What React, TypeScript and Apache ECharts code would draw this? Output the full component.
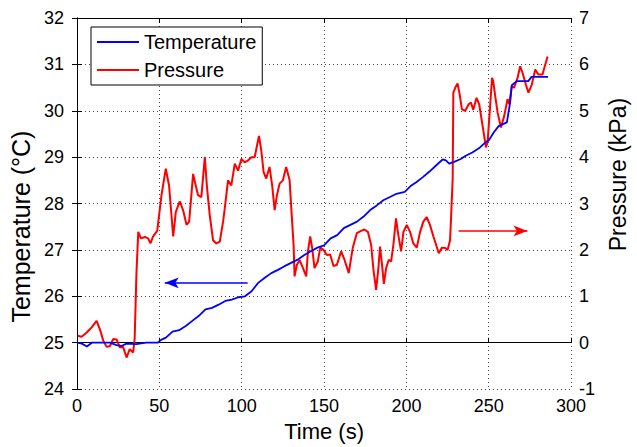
import React, { useEffect, useRef } from "react";
import * as echarts from "echarts";

const FONT = "Liberation Sans";

const timeTicks = { min: 0, max: 300, interval: 50 };
const tempTicks = { min: 24, max: 32, interval: 1 };
const presTicks = { min: -1, max: 7, interval: 1 };

// [time (s), temperature (°C)]
const temperatureData: number[][] = [
  [0, 25.0], [3, 24.98], [6, 24.92], [9, 25.0], [14, 25.0], [20, 25.0], [24, 24.95], [27, 24.93],
  [30, 24.98], [36, 24.97], [42, 25.0], [49, 25.0], [51, 25.06], [54, 25.11], [58, 25.24], [62, 25.27],
  [66, 25.36], [70, 25.47], [74, 25.58], [78, 25.72], [82, 25.75], [86, 25.82], [90, 25.9], [94, 25.93],
  [98, 25.98], [102, 26.0], [106, 26.11], [110, 26.29], [114, 26.4], [118, 26.5], [122, 26.57], [126, 26.65],
  [130, 26.72], [134, 26.79], [138, 26.89], [142, 26.97], [146, 27.05], [150, 27.1], [154, 27.25], [158, 27.32],
  [162, 27.47], [166, 27.54], [170, 27.61], [174, 27.72], [178, 27.86], [182, 27.96], [186, 28.07], [190, 28.14],
  [194, 28.21], [199, 28.25], [203, 28.39], [206, 28.46], [210, 28.57], [214, 28.69], [218, 28.82], [222, 28.95],
  [224, 28.93], [226, 28.86], [229, 28.9], [233, 28.96], [236, 29.03], [240, 29.1], [244, 29.19], [248, 29.32],
  [250, 29.36], [253, 29.53], [256, 29.67], [261, 29.75], [263, 30.18], [264, 30.55], [267, 30.64], [270, 30.64],
  [274, 30.64], [276, 30.73], [286, 30.73],
];

// [time (s), pressure (kPa)]
const pressureData: number[][] = [
  [0.4, 0.15], [2.8, 0.13], [5.9, 0.22], [8.9, 0.33], [11.9, 0.47], [13.9, 0.29], [16, 0.04], [18, -0.09],
  [20, -0.07], [22, 0.08], [24, 0.07], [26, -0.1], [28, -0.09], [30.1, -0.32], [32, -0.14], [34.1, -0.21],
  [35, 0.08], [36.1, 1.5], [37.2, 2.39], [38.8, 2.25], [41.2, 2.28], [43.2, 2.25], [44.6, 2.14], [46.3, 2.3],
  [48.7, 2.41], [51.3, 3.18], [53.9, 3.75], [55.9, 3.39], [58.4, 2.29], [60, 2.82], [62.4, 3.05], [64.4, 2.86],
  [66.5, 2.54], [68.1, 2.61], [70.5, 3.64], [72.1, 3.39], [73.5, 3.18], [75.5, 3.14], [77.6, 4.0], [79, 3.32],
  [80.6, 2.75], [82.6, 2.21], [84.6, 2.14], [86.7, 2.18], [88.7, 2.61], [89.7, 2.89], [91.7, 3.5], [93.7, 3.39],
  [95.8, 3.86], [97.8, 3.71], [99.8, 3.96], [101.8, 3.89], [103.8, 3.93], [105.9, 4.0], [107.9, 4.0], [109.3, 4.25],
  [110.5, 4.46], [111.9, 4.14], [113.3, 3.68], [114.9, 3.54], [116.9, 3.79], [118.5, 3.39], [120, 2.86], [121.4, 3.18],
  [123, 3.43], [125, 3.5], [127, 3.79], [129.1, 3.5], [130, 2.96], [131.5, 2.11], [132.1, 1.43], [133.5, 1.68],
  [135.2, 1.78], [137.2, 1.61], [139.2, 1.43], [140.2, 1.97], [141.6, 2.29], [142.8, 2.04], [144.2, 1.61], [146.2, 1.75],
  [147.7, 2.05], [149.7, 2.0], [151.7, 1.89], [153.7, 1.9], [155.8, 1.65], [157.8, 1.68], [160.4, 1.97], [162.4, 1.79],
  [165, 1.5], [167.4, 2.04], [169.9, 2.36], [172.5, 2.41], [174.5, 2.44], [176.6, 2.39], [178.6, 2.11], [180, 1.57],
  [181.6, 1.14], [183, 1.61], [184, 2.07], [185.2, 1.68], [186.3, 1.27], [187.7, 1.61], [189.3, 1.79], [190.7, 1.75],
  [192.1, 2.11], [193.7, 2.68], [195.1, 2.32], [196.8, 1.97], [198.2, 2.39], [200.2, 2.54], [202.2, 2.39], [204.2, 2.14],
  [206.3, 2.05], [208.3, 2.39], [210.3, 2.61], [212.3, 2.71], [214.3, 2.54], [216.4, 2.29], [218.4, 2.07], [219.6, 1.93],
  [221.6, 2.05], [223.6, 2.04], [225, 2.0], [226.5, 2.21], [227.1, 2.68], [228.1, 3.54], [228.5, 5.39], [229.7, 5.5],
  [231.1, 5.59], [232.5, 5.32], [233.7, 5.03], [235.7, 5.0], [237.8, 5.14], [239.2, 5.18], [240.6, 5.02], [242.6, 5.28],
  [244.2, 5.14], [246.3, 4.67], [248.3, 4.21], [249.3, 4.33], [250.7, 5.03], [252, 5.71], [252.7, 5.64], [254, 5.3],
  [255.4, 4.96], [257.4, 4.64], [259.4, 4.89], [261.4, 5.25], [262.4, 5.14], [264, 5.53], [265.4, 5.5], [267.5, 5.71],
  [269.1, 5.96], [270.5, 5.82], [272.5, 5.57], [274.1, 5.39], [276.2, 5.57], [278.2, 5.89], [280.2, 5.78], [282.6, 5.78],
  [284.6, 6.03], [285.7, 6.17],
];

// Annotation arrows in data coordinates: [fromTime, toTime, level]
const tempArrow = [103.6, 53.3, 26.29];
const presArrow = [231.7, 273.5, 2.41];

export default function App() {
  const ref = useRef<HTMLDivElement>(null);
  useEffect(() => {
    if (!ref.current) return;
    const chart = echarts.init(ref.current, undefined, { renderer: "svg" });
    const labelStyle = { color: "#000", fontFamily: FONT, fontSize: 18 };
    const tick = { show: true, inside: true, length: 5, lineStyle: { color: "#000" } };
    const axisLine = { show: true, lineStyle: { color: "#000", width: 1 } };
    const grid = { show: true, lineStyle: { color: "#444", type: [1, 3], width: 1 } };
    chart.setOption({
      animation: false,
      backgroundColor: "#fff",
      grid: { left: 77, right: 65, top: 18, bottom: 55, containLabel: false },
      legend: {
        data: ["Temperature", "Pressure"],
        orient: "vertical",
        left: 91,
        top: 27,
        icon: "rect",
        itemWidth: 42,
        itemHeight: 2,
        itemGap: 8,
        itemTextGap: 4,
        padding: [5, 6, 5, 6],
        borderColor: "#000",
        borderWidth: 1,
        backgroundColor: "#fff",
        textStyle: { color: "#000", fontFamily: FONT, fontSize: 20 },
      },
      xAxis: [
        {
          type: "value",
          ...timeTicks,
          name: "Time (s)",
          nameLocation: "middle",
          nameGap: 30,
          nameTextStyle: { color: "#000", fontFamily: FONT, fontSize: 22 },
          axisLine,
          axisTick: tick,
          axisLabel: { ...labelStyle, margin: 8, lineHeight: 18 },
          splitLine: grid,
        },
        {
          type: "value",
          position: "top",
          ...timeTicks,
          axisLine,
          axisTick: tick,
          axisLabel: { show: false },
          splitLine: { show: false },
        },
      ],
      yAxis: [
        {
          type: "value",
          ...tempTicks,
          name: "Temperature (°C)",
          nameLocation: "middle",
          nameGap: 44,
          nameTextStyle: { color: "#000", fontFamily: FONT, fontSize: 25, padding: [0, 46, 0, 0] },
          axisLine,
          axisTick: tick,
          axisLabel: { ...labelStyle, margin: 13, lineHeight: 15 },
          splitLine: grid,
        },
        {
          type: "value",
          ...presTicks,
          position: "right",
          name: "Pressure (kPa)",
          nameLocation: "middle",
          nameGap: 33,
          nameTextStyle: { color: "#000", fontFamily: FONT, fontSize: 23, padding: [0, 0, 0, 58] },
          axisLine,
          axisTick: tick,
          axisLabel: { ...labelStyle, margin: 8, lineHeight: 14 },
          splitLine: { show: false },
        },
      ],
      series: [
        {
          name: "Temperature",
          type: "line",
          xAxisIndex: 0,
          yAxisIndex: 0,
          data: temperatureData,
          symbol: "none",
          showSymbol: false,
          color: "#0000ff",
          lineStyle: { color: "#0000ff", width: 1.8 },
          z: 3,
          markLine: {
            silent: true,
            symbol: ["none", "arrow"],
            symbolSize: [8, 14],
            label: { show: false },
            lineStyle: { color: "#0000ff", width: 1.5, type: "solid" },
            data: [[{ coord: [tempArrow[0], tempArrow[2]] }, { coord: [tempArrow[1], tempArrow[2]] }]],
          },
        },
        {
          name: "Pressure",
          type: "line",
          xAxisIndex: 0,
          yAxisIndex: 1,
          data: pressureData,
          symbol: "none",
          showSymbol: false,
          color: "#ff0000",
          lineStyle: { color: "#ff0000", width: 2 },
          z: 2,
          markLine: {
            silent: true,
            symbol: ["none", "arrow"],
            symbolSize: [8, 14],
            label: { show: false },
            lineStyle: { color: "#ff0000", width: 1.5, type: "solid" },
            data: [[{ coord: [presArrow[0], presArrow[2]] }, { coord: [presArrow[1], presArrow[2]] }]],
          },
        },
      ],
    });
    return () => chart.dispose();
  }, []);
  return <div ref={ref} style={{ width: 637, height: 447, position: "absolute", left: 0, top: 0 }} />;
}
